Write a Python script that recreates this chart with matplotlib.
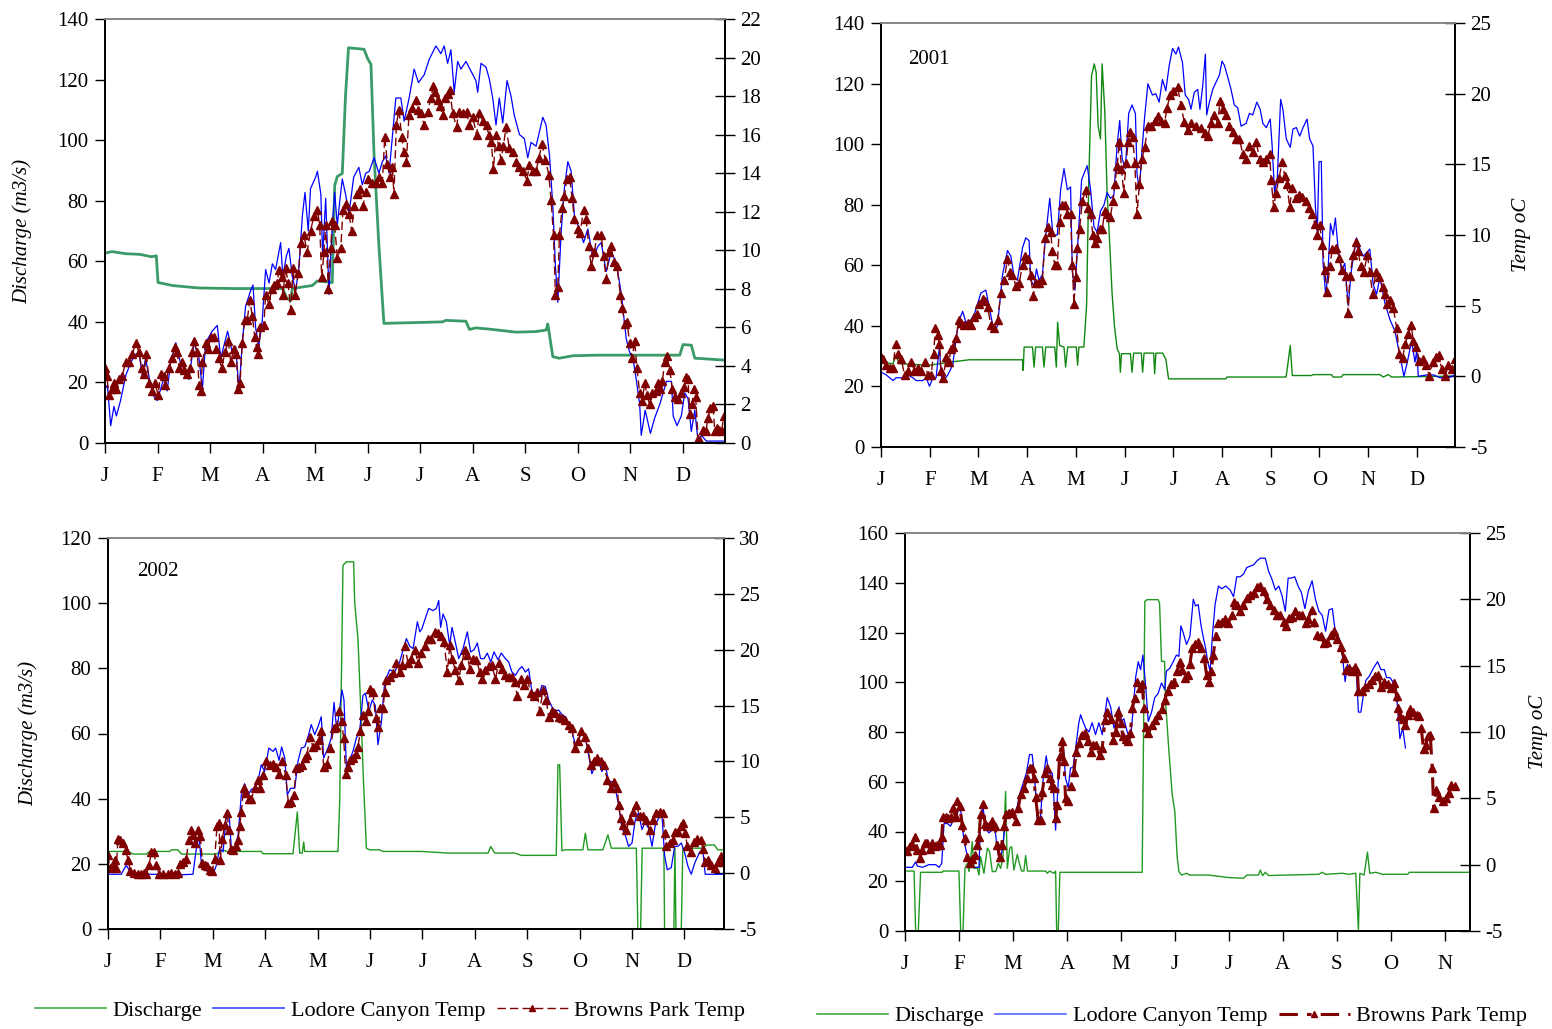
import numpy as np
import matplotlib
matplotlib.use("Agg")
import matplotlib.pyplot as plt
from matplotlib.lines import Line2D

plt.rcParams['font.family'] = ['Liberation Serif', 'DejaVu Serif']
plt.rcParams['font.size'] = 15

months = ['J', 'F', 'M', 'A', 'M', 'J', 'J', 'A', 'S', 'O', 'N', 'D']

# ---- panel 1 (no year label) : (day of year, value) ----
p1_discharge = [(0, 62.7), (4, 63.2), (12, 62.5), (20, 62.3), (27, 61.5), (29.7, 61.8), (30.7, 53), (39, 52),
                (54, 51.2), (74, 51), (103, 51), (105, 48), (107.5, 47), (108.5, 51), (120, 52), (123, 53.5),
                (131.6, 53), (133, 85), (134.5, 88), (137.4, 89), (139.3, 115), (141, 130.5), (150, 130),
                (152, 127), (154, 125), (155.8, 95), (158.6, 65), (161.5, 39.5), (182, 39.8), (195.5, 40),
                (197.4, 40.5), (209, 40.2), (211, 37.5), (214.7, 38), (222.5, 37.6), (238, 36.6), (249.6, 36.8),
                (255.4, 37.3), (256.4, 39.3), (259.3, 28.5), (263, 28), (270.9, 28.8), (284.4, 29), (332.8, 29),
                (334.7, 32.5), (339.5, 32.3), (341.5, 28), (358, 27.4)]

p1_lodore = [(0, 2.8), (1.4, 3.0), (3.3, 0.9), (5.2, 1.9), (6.6, 1.4), (9, 2.2), (12, 3.5), (15, 4.2), (17.8, 4.6),
             (19.7, 4.7), (21.6, 3.5), (23.5, 4.4), (26.4, 3.0), (28.4, 2.4), (30.3, 2.2), (33.2, 3.1), (35, 3.5),
             (36, 2.7), (38, 4.2), (41, 5.2), (43.8, 4.1), (46.7, 3.8), (48.6, 3.3), (51.5, 5.2), (54.4, 4.4),
             (56.4, 2.8), (58.3, 5.2), (62, 5.8), (65, 6.1), (67, 4.4), (71, 5.8), (73.7, 4.7), (75.7, 5.0),
             (77.6, 2.7), (79.5, 5.2), (81.4, 7.1), (84.3, 7.9), (85.7, 8.2), (87.2, 6.0), (89, 5.0), (91, 6.3),
             (93, 9.0), (95, 8.3), (96.9, 9.3), (98.8, 9.0), (101.7, 10.4), (103, 8.6), (105, 9.7), (106.5, 10.1),
             (108.5, 8.6), (110.4, 7.9), (112.3, 9.1), (114.3, 11.8), (115.8, 13.0), (117.7, 11.0), (119, 13.2),
             (122, 13.8), (123, 14.1), (125, 12.9), (126, 9.7), (127.8, 12.7), (129.7, 7.7), (131.6, 11.3),
             (133, 13.0), (134.5, 11.3), (136, 12.6), (137.4, 13.7), (139.3, 12.9), (141.3, 11.9), (144, 13.8),
             (147, 14.3), (149, 13.4), (151, 14.0), (153, 14.1), (155.8, 14.8), (158.6, 14.0), (160.6, 14.6),
             (162.5, 14.9), (164.5, 14.0), (168.4, 17.9), (171.3, 17.9), (173.2, 16.7), (176.1, 17.9), (179, 19.4),
             (181.5, 18.7), (184.8, 19.1), (187.7, 19.9), (191.6, 20.6), (194.5, 20.2), (196.4, 20.6), (198.4, 19.7),
             (200.3, 20.4), (202.2, 18.2), (204.2, 19.8), (206.1, 19.4), (209, 19.8), (211.9, 19.3), (214.8, 18.8),
             (215.8, 18.2), (217.7, 19.7), (220.6, 19.5), (222.5, 18.9), (224.5, 17.9), (226.4, 16.5), (228.3, 17.9),
             (230.3, 16.6), (232.8, 18.8), (235.1, 18.0), (237, 17.0), (240, 16.0), (242.8, 15.8), (244.8, 14.8),
             (246.7, 15.6), (249.6, 15.4), (253.5, 16.9), (255.4, 16.5), (257.4, 14.9), (259.3, 12.3), (260.8, 9.2),
             (262.2, 7.3), (264.1, 10.9), (266, 13.2), (268, 14.6), (269.9, 14.1), (271.8, 11.8), (274.7, 11.1),
             (277.1, 10.4), (279.6, 11.1), (282.5, 9.6), (285.4, 10.2), (287.3, 10.4), (290.2, 8.9), (293.1, 9.9),
             (296, 9.4), (299, 7.7), (301.8, 5.4), (303.8, 4.7), (305.7, 4.4), (307.6, 3.3), (309.6, 2.0),
             (310.5, 0.4), (312.8, 1.7), (315.8, 0.5), (318.3, 1.3), (321.2, 2.0), (325.1, 3.2), (328, 3.2),
             (329, 1.4), (331.2, 0.9), (333.7, 1.4), (335.7, 2.6), (337.6, 2.3), (339.5, 0.6), (341.5, 1.7),
             (343.4, 0.1), (345.3, 0.4), (348.2, 0.1), (358, 0.1)]

p1_browns = [(0, 3.9), (1, 3.5), (2.3, 2.5), (4.2, 2.8), (5.2, 3.1), (6.6, 2.8), (8.1, 3.3), (10, 3.5), (12, 4.2),
             (13.9, 4.2), (15.8, 4.6), (17.8, 5.2), (19.7, 4.7), (21.2, 3.9), (22.6, 3.6), (24, 4.6), (25.5, 3.1),
             (27.4, 2.7), (29, 3.1), (30.7, 2.5), (32.2, 3.6), (34.2, 3.5), (35, 3.0), (37, 3.9), (39, 4.4),
             (40.5, 5.0), (41.9, 4.7), (42.8, 3.9), (44.4, 4.2), (45.7, 3.8), (47.7, 3.6), (49, 3.9), (50.6, 4.7),
             (51.5, 5.3), (53.5, 4.7), (54.4, 3.0), (55.4, 2.7), (56.4, 4.2), (58.3, 5.2), (59.8, 4.9), (61.2, 5.5),
             (63.1, 5.5), (64.5, 4.9), (66, 4.4), (67.5, 3.9), (69.5, 4.7), (71.4, 5.3), (72.8, 4.2), (74.7, 4.9),
             (76, 4.6), (77.2, 2.8), (78.2, 3.1), (79.5, 5.2), (81, 6.4), (82.4, 6.4), (83.8, 7.4), (85.3, 6.6),
             (86.7, 5.5), (87.8, 5.0), (88.8, 4.6), (90, 6.0), (92, 6.1), (93, 7.7), (95, 7.2), (96.5, 8.0),
             (97.9, 8.2), (99.8, 8.3), (100.7, 9.0), (102.3, 8.6), (103, 7.7), (104.6, 9.1), (106, 8.3), (107.5, 6.9),
             (108.9, 9.1), (110, 7.7), (112, 8.8), (113.3, 10.4), (115.2, 10.8), (117, 9.9), (119, 11.0), (121, 11.8),
             (123, 12.1), (124.3, 11.3), (125.5, 8.6), (126.8, 9.9), (127.8, 11.3), (129.3, 8.0), (130.7, 10.1),
             (131.6, 11.5), (133, 11.3), (134.5, 9.6), (136.5, 10.1), (137.8, 12.1), (139.3, 12.4), (141.3, 11.9),
             (142.8, 11.0), (144.2, 12.3), (146.1, 12.9), (147.5, 13.2), (149.4, 12.3), (151, 13.0), (152.5, 13.7),
             (154.8, 13.5), (156.7, 13.5), (158.6, 13.8), (160.6, 13.5), (162, 15.9), (163.5, 14.5), (164.8, 13.8),
             (166.4, 14.3), (167.3, 12.9), (168.7, 16.5), (170.2, 17.3), (171.8, 15.9), (173, 15.1), (174.5, 14.6),
             (176, 17.0), (178, 17.4), (179.9, 17.8), (181, 17.3), (182.9, 17.1), (184.8, 16.5), (186.8, 17.2),
             (188.7, 17.9), (190, 18.5), (191.2, 18.2), (192.6, 17.8), (193.9, 17.5), (195.5, 17.0), (197, 17.9),
             (198.4, 18.1), (199.7, 18.3), (201.3, 17.1), (203.6, 16.4), (204.7, 17.2), (207.1, 17.1), (209.4, 17.2),
             (210.9, 16.5), (212.9, 16.9), (215.2, 16.0), (216.7, 17.1), (219, 16.7), (221, 16.5), (222.1, 16.0),
             (223.7, 15.6), (224.9, 14.2), (226.4, 16.0), (228, 15.4), (229.3, 14.7), (230.7, 15.4), (232.2, 16.4),
             (234.1, 15.3), (236.1, 15.1), (238, 14.6), (239.9, 14.3), (242.3, 14.1), (244.2, 13.6), (245.7, 14.4),
             (247.7, 14.1), (249.6, 14.1), (251.2, 14.8), (253.1, 15.5), (255, 14.7), (257, 13.9), (258.3, 12.6),
             (259.7, 10.8), (260.8, 7.7), (262.2, 8.1), (263.1, 10.8), (264.7, 12.2), (266, 12.8), (267.4, 13.7),
             (269, 13.8), (270.5, 12.7), (271.8, 11.6), (273.8, 11.1), (275.1, 10.9), (277.1, 12.1), (278.6, 11.6),
             (280.2, 10.2), (281.5, 9.2), (283.4, 9.9), (284.8, 10.8), (287.3, 10.8), (288.7, 9.7), (290.2, 8.5),
             (291.8, 9.9), (293.1, 10.2), (294.5, 9.4), (296.4, 9.2), (298.4, 7.7), (299.5, 7.0), (300.9, 6.2),
             (302.2, 6.3), (303.8, 5.2), (305.3, 4.4), (306.7, 5.3), (308, 3.9), (309.6, 2.6), (311.1, 2.2),
             (312.5, 3.1), (313.8, 2.5), (315.4, 2.0), (317, 2.6), (318.9, 2.7), (320.2, 3.1), (321.6, 2.8),
             (322.7, 3.2), (324.1, 4.2), (325.4, 4.5), (327, 3.8), (328.5, 2.8), (329.9, 2.4), (331.8, 2.3),
             (333.7, 2.6), (335.1, 2.9), (336.3, 3.4), (337.6, 3.3), (338.6, 1.5), (339.9, 2.0), (340.9, 2.8),
             (342, 2.4), (343.4, 0.2), (344.8, 0.1), (346.3, 0.7), (347.9, 0.6), (349.2, 1.3), (350.6, 1.8),
             (352.1, 1.9), (353.1, 0.6), (354.4, 0.8), (355.6, 0.7), (357, 0.6), (358.3, 1.4)]

# ---- panel 2 (2001) ----
p2_discharge = [(0, 28), (7.5, 27.5), (9.1, 30.2), (11.6, 27.5), (30.3, 27), (42.7, 28), (55.2, 28.8), (88.4, 28.8),
                (88.8, 25.3), (89.4, 33), (94.6, 33), (95.6, 26.4), (96.6, 33), (100.8, 33), (101.8, 26.4),
                (102.9, 33), (108.5, 33), (109.5, 26.4), (110.3, 41.2), (111.6, 33.5), (114.3, 33), (115.3, 26.4),
                (116.6, 33), (122, 33), (122.8, 27), (123.6, 33), (126.7, 33), (128.4, 46.7), (129.8, 88.5),
                (131.5, 122.6), (133.2, 126.5), (134.4, 123.7), (135.6, 106), (137.1, 101.7), (138.1, 126.5),
                (139.8, 110.5), (141.2, 84), (142.7, 68.7), (144.3, 51), (145.8, 40), (147.5, 32.4), (148.9, 30.8),
                (149.5, 24.7), (150.2, 30.8), (155.8, 30.8), (156.8, 24.7), (157.8, 31), (162.6, 31), (163.4, 24.7),
                (164.3, 31), (170.3, 31), (170.9, 24.2), (171.7, 31), (175.9, 31), (177.9, 29), (179.6, 22.5),
                (215.5, 22.5), (216, 23.1), (253, 23.1), (254, 27), (255.6, 33.5), (256.9, 23.6), (268.8, 23.6),
                (269.8, 23.9), (281.3, 23.9), (282.4, 23.1), (287.6, 23.1), (288.6, 23.9), (311.6, 23.9),
                (313.7, 23.1), (316.8, 23.9), (318.9, 23.1), (358.6, 23.4)]

p2_lodore = [(0, 0.3), (3.3, 0.1), (7.5, -0.3), (9.5, -0.1), (13.7, -0.1), (16.8, 0.1), (19.9, -0.1), (22, -0.3),
             (26.1, -0.3), (28.2, -0.1), (30.3, -0.7), (32.4, -0.1), (34.4, -0.1), (36.5, 2.1), (37.5, 0.1),
             (39, -0.3), (41.7, 0.1), (44.8, 0.8), (46.9, 2.7), (48.9, 4.0), (51, 4.6), (53.1, 3.8), (56.2, 4.0),
             (58.3, 4.4), (62.4, 5.9), (65.5, 6.1), (67.6, 4.9), (70.7, 3.1), (72.8, 3.6), (75.9, 7.2), (79, 8.9),
             (81.1, 8.5), (83.2, 7.0), (85.2, 6.8), (88.4, 9.1), (90.4, 9.8), (92.5, 9.6), (93.5, 6.8), (95.6, 6.4),
             (97.1, 7.6), (98.7, 6.8), (100.8, 7.2), (102.9, 10.0), (105.4, 12.6), (107.4, 10.0), (110.1, 10.0),
             (112.2, 13.2), (114.3, 14.7), (116.4, 13.2), (118.4, 13.4), (119.5, 7.4), (121.1, 6.1), (123.2, 10.0),
             (125.3, 13.9), (127.3, 14.5), (128.8, 14.9), (130.9, 13.2), (133, 10.6), (135, 10.2), (137.1, 11.7),
             (139.2, 12.1), (141.2, 13.0), (143.3, 12.6), (145.4, 12.8), (147.5, 16.4), (149.1, 18.1), (150.6, 15.4),
             (152.6, 14.7), (154.7, 18.6), (156.8, 19.2), (158.9, 18.6), (159.9, 14.3), (161.4, 13.2), (163, 16.0),
             (164.7, 18.4), (166.7, 20.7), (169.5, 19.9), (171.6, 20.0), (173.7, 19.4), (175.8, 21.0), (177.9, 20.2),
             (180, 22.0), (182.1, 23.2), (184.2, 22.8), (185.8, 23.3), (188.3, 22.2), (190, 19.9), (192.1, 19.6),
             (193.6, 18.9), (195.7, 20.1), (197.8, 20.3), (199.2, 18.9), (200.9, 20.5), (202.6, 22.8), (203.4, 18.5),
             (205.1, 19.4), (207.2, 20.3), (209.2, 20.8), (211.3, 21.3), (213, 22.3), (214.5, 22.0), (216.5, 21.2),
             (218.6, 20.3), (220.7, 19.2), (222.8, 19.0), (224.9, 17.7), (228, 17.9), (230.1, 18.6), (232.2, 18.5),
             (234.7, 19.4), (236.8, 18.9), (238.5, 17.9), (240.6, 17.6), (243.1, 18.2), (244.3, 16.3), (245.8, 13.0),
             (247.5, 14.0), (249.6, 19.6), (251, 18.9), (253.1, 16.8), (255.6, 16.2), (257.3, 17.5), (259.4, 17.6),
             (261.5, 17.0), (263.6, 17.6), (266.1, 18.2), (267.7, 16.8), (269.8, 16.3), (271.3, 12.0), (272.5, 10.2),
             (273.6, 15.2), (275, 15.2), (276.1, 8.0), (277.8, 5.7), (279.2, 7.5), (280.7, 10.8), (282.4, 10.0),
             (283.8, 11.2), (285.5, 9.0), (287.6, 7.5), (289.7, 8.0), (291.8, 5.0), (293.8, 7.5), (297, 9.8),
             (299.1, 9.0), (301.2, 8.5), (305.3, 9.0), (307.4, 6.5), (309.5, 5.8), (311.6, 7.0), (314.7, 5.2),
             (317.9, 4.0), (321, 3.2), (323.1, 2.0), (324.6, 1.2), (326.6, 0.0), (328.7, 1.0), (331.4, 2.5),
             (333.5, 1.0), (334.6, 1.8), (335.6, 0.0), (340.8, 0.1), (345, 0.1), (349.2, -0.1), (354.4, -0.1),
             (358.6, 0.1)]

p2_browns = [(0, 1.4), (1.2, 1.2), (3.3, 0.8), (5.4, 0.6), (7.5, 0.6), (9.1, 2.3), (10.6, 1.6), (12.7, 1.2),
             (14.7, 0.1), (16.8, 0.4), (18.9, 1.0), (20.9, 0.4), (23, 0.6), (25.1, 0.4), (27.2, 1.0), (29.2, 0.1),
             (31.3, 0.1), (32.8, 1.6), (34, 3.4), (35.5, 2.9), (36.5, 2.3), (37.5, 0.4), (39, -0.1), (40.7, 1.4),
             (42.3, 1.0), (43.8, 1.9), (45.2, 2.1), (46.9, 2.7), (48.5, 4.0), (50, 3.8), (52.1, 3.6), (54.1, 3.8),
             (56.2, 3.6), (58.3, 4.2), (59.7, 4.4), (61.4, 5.1), (63.5, 5.5), (65.1, 5.3), (66.6, 4.9), (68.6, 3.6),
             (70.7, 3.4), (72.8, 4.0), (74.9, 5.9), (76.9, 6.8), (79, 8.3), (80.5, 7.4), (82.1, 7.2), (84.2, 6.4),
             (86.3, 6.6), (88.4, 7.9), (90, 8.5), (92.1, 8.3), (93.5, 7.2), (95, 5.7), (96.6, 6.6), (98.7, 6.6),
             (100.8, 6.8), (102.5, 9.8), (104.5, 10.6), (106, 10.2), (107, 8.9), (108.5, 7.9), (110.1, 7.9),
             (111.6, 10.9), (113.2, 12.1), (114.9, 12.1), (116.4, 11.5), (118.4, 11.5), (119.5, 7.9), (120.5, 5.1),
             (121.5, 7.0), (122.6, 9.1), (124, 10.4), (125.7, 12.4), (127.8, 13.2), (129.2, 11.9), (130.9, 11.5),
             (132.3, 10.0), (133.6, 9.4), (135, 9.8), (136.7, 10.4), (138.1, 10.4), (139.8, 11.7), (141.2, 11.5),
             (143.3, 11.3), (144.8, 12.4), (146, 13.6), (147.5, 14.9), (148.9, 16.6), (150.2, 14.7), (151.6, 13.0),
             (153.1, 15.1), (154.3, 16.6), (155.8, 17.3), (157.2, 16.9), (158.5, 15.1), (159.9, 11.5), (161.4, 13.6),
             (163, 15.4), (164.7, 16.2), (166.7, 17.7), (168.8, 17.7), (170.9, 18.1), (173, 18.4), (175, 18.1),
             (177.1, 17.9), (178.6, 19.0), (180.6, 19.9), (182.1, 20.2), (185.2, 20.5), (187.3, 19.2), (189.4, 18.0),
             (191.5, 17.4), (193.6, 17.9), (196.7, 17.7), (199.8, 17.6), (202.6, 17.2), (204, 17.0), (206.1, 17.9),
             (208.2, 18.5), (210.3, 17.9), (211.8, 19.5), (213.4, 18.9), (215.5, 18.5), (217.6, 17.7), (219.7, 17.3),
             (221.8, 16.8), (223.9, 16.8), (226, 15.7), (228, 15.4), (230.1, 16.3), (232.2, 15.9), (234.3, 16.6),
             (236.4, 15.4), (238.5, 15.2), (240.6, 15.4), (242.7, 15.7), (243.7, 13.9), (245.2, 12.0), (246.8, 13.0),
             (248.5, 14.0), (250.6, 15.2), (252.1, 14.2), (253.5, 13.6), (255.2, 12.0), (256.9, 13.3), (259, 12.6),
             (261, 12.8), (263.1, 12.7), (265.2, 12.4), (267.3, 11.9), (269.4, 11.5), (270.9, 10.8), (272.3, 10.0),
             (274, 10.7), (275.7, 9.3), (277.1, 7.5), (278.6, 6.0), (280.3, 7.8), (281.9, 9.0), (284, 9.1),
             (286.1, 8.4), (288.2, 7.5), (290.3, 7.1), (291.8, 4.5), (292.8, 7.1), (294.9, 8.6), (296.6, 9.5),
             (298, 8.9), (299.5, 7.8), (301.6, 7.4), (303.7, 8.6), (305.3, 7.4), (307, 5.8), (309.1, 7.4),
             (311.2, 7.0), (313.3, 6.3), (314.7, 5.8), (316.2, 5.1), (317.9, 5.4), (320, 4.8), (322.1, 3.4),
             (323.7, 1.6), (325.8, 1.3), (327.3, 2.3), (329.4, 3.0), (331.1, 3.6), (332.5, 2.5), (334.2, 2.1),
             (336.3, 1.1), (338.4, 1.2), (340.4, 0.8), (342.5, 0.0), (344.6, 1.0), (346.7, 1.4), (348.4, 1.5),
             (350.2, 0.5), (352.3, 0.0), (354.4, 0.8), (356.5, 0.5), (358.6, 1.2)]

# ---- panel 3 (2002) ----
p3_discharge = [(0, 23.8), (11.6, 23.8), (14.5, 23), (22.3, 23), (24.2, 23.8), (35.8, 23.8), (36.8, 24.3),
                (40.6, 24.3), (42.6, 23), (62.9, 23), (66.8, 24.3), (68.7, 23.8), (89, 23.8), (89.9, 23.1),
                (107.4, 23.1), (109.9, 35.9), (111.3, 23.3), (112.8, 23.3), (113.6, 26.7), (114.2, 23.8),
                (133.5, 23.8), (134.5, 39), (136.4, 111.6), (138.4, 112.7), (142.6, 112.7), (143.2, 100.4),
                (144.2, 94.3), (145.1, 89.2), (147.1, 62.6), (148.4, 44.2), (150, 24.8), (151.9, 24.3), (157.7, 24.3),
                (159.6, 23.8), (182, 23.8), (197.4, 23.3), (220.6, 23.3), (222.2, 25.3), (224.5, 23.3), (236.1, 23.3),
                (240, 22.6), (260.2, 22.6), (261.2, 50.4), (262.2, 50.4), (263.5, 24), (265.1, 24.3), (275.7, 24.3),
                (277.1, 29.4), (278.6, 24.3), (287.3, 24.3), (290.2, 28.9), (292.2, 24.8), (306.7, 24.8),
                (307.6, 0), (309.2, 0), (310.1, 24.8), (322.7, 24.8), (323.1, 0), (328.5, 0), (329.1, 24.8),
                (329.7, 0), (332.8, 0), (333.7, 24.8), (344.3, 24.8), (348, 25.8), (352, 25.8), (354, 24.3),
                (358, 24.3)]

p3_lodore = [(0, -0.1), (7.7, -0.1), (9.1, 0.3), (10.6, 0.7), (12.6, 0.2), (14.5, 0.1), (18.4, -0.1), (28.1, -0.1),
             (30, -0.4), (33.9, -0.2), (49.3, -0.1), (51.3, 2.2), (52.8, 3.4), (54.2, 0.9), (56.1, 0.3), (61, -0.1),
             (62.9, 0.7), (64.8, 2.2), (66.8, 1.9), (68.7, 5.2), (70.2, 5.5), (71.6, 2.2), (73.5, 2.1), (75.5, 3.4),
             (77.4, 7.0), (79.3, 8.0), (81.3, 7.0), (83.2, 7.5), (85.1, 7.6), (87.1, 8.3), (89, 9.7), (90.9, 9.1),
             (93.4, 11.2), (95.8, 10.9), (97.3, 11.2), (99.3, 10.1), (100.8, 11.3), (102.6, 10.3), (104.1, 7.0),
             (106, 7.6), (108.4, 7.6), (110.3, 10.0), (112.2, 11.2), (114.2, 11.3), (116.1, 12.2), (118, 13.3),
             (120, 12.4), (121.9, 13.1), (123.8, 14.0), (125.2, 10.3), (127.7, 11.2), (129.6, 12.1), (131.2, 15.3),
             (132.9, 12.7), (134.5, 14.7), (135.8, 16.4), (137, 15.5), (138.4, 9.4), (140.3, 10.1), (142.2, 10.9),
             (144.2, 12.1), (146.1, 12.7), (148, 15.9), (149.4, 16.1), (151.5, 14.5), (153.4, 15.5), (155.2, 15.0),
             (156.7, 11.5), (158.7, 13.5), (160.6, 17.1), (163.5, 18.2), (166.4, 18.0), (169.3, 18.9), (171.9, 20.3),
             (173.2, 21.0), (175.2, 20.3), (177.1, 20.1), (179.6, 22.5), (181, 21.6), (182.3, 21.9), (184.2, 22.8),
             (186.2, 23.7), (188.7, 23.5), (190.6, 23.7), (192, 24.4), (193.1, 22.0), (194.5, 23.2), (196.4, 22.5),
             (198.4, 20.4), (199.7, 22.0), (201.6, 20.7), (203.6, 19.2), (206.1, 20.1), (208.6, 21.6), (210.5, 19.8),
             (212.5, 20.0), (214.4, 20.6), (216.3, 19.2), (218.3, 19.2), (220.2, 19.7), (222.2, 18.9), (224.1, 19.8),
             (226.4, 19.1), (228.3, 19.7), (230.7, 19.2), (232.6, 18.9), (234.5, 18.0), (236.5, 17.7), (238.4, 18.2),
             (240.3, 18.5), (242.3, 18.0), (244.2, 18.3), (246.1, 16.2), (248.1, 16.1), (250, 15.9), (251.9, 16.8),
             (253.9, 16.7), (255.8, 15.5), (257.7, 14.9), (259.7, 14.5), (261.6, 14.6), (263.5, 14.2), (265.5, 14.0),
             (267.4, 13.4), (269.3, 12.7), (271.3, 11.5), (273.2, 11.9), (275.1, 12.7), (277.1, 12.1), (279, 10.6),
             (280.9, 8.9), (282.9, 9.7), (284.8, 10.0), (286.7, 9.1), (288.7, 9.7), (290.6, 8.2), (292.5, 8.2),
             (294.5, 7.6), (296.4, 6.1), (298.4, 4.0), (300.3, 3.4), (302.2, 2.4), (304.2, 2.7), (306.1, 4.8),
             (308, 5.4), (310, 3.9), (311.9, 4.6), (313.8, 4.0), (315.8, 2.4), (317.7, 4.3), (319.6, 4.9),
             (321.6, 5.2), (323.1, 1.6), (324.7, 0.3), (327, 0.5), (329, 2.4), (330.9, 2.4), (332.8, 2.7),
             (334.8, 1.8), (336.7, 0.6), (338.6, -0.1), (340.6, 0.9), (343.5, 1.9), (345.4, 1.9), (346.7, -0.1),
             (358, -0.1)]

p3_browns = [(0, 1.6), (1, 0.5), (2.9, 0.6), (3.9, 1.2), (4.8, 0.5), (5.8, 3.1), (7.2, 3.0), (8.7, 2.7), (10.3, 2.1),
             (11.6, 1.2), (13, 0.2), (14.9, 0.0), (17.4, -0.1), (19.4, -0.1), (20.7, 0.0), (22.3, -0.1), (23.8, 0.7),
             (25.2, 1.9), (26.5, 1.9), (28.1, 0.7), (29.6, -0.1), (31.9, -0.1), (34.8, -0.1), (36.8, 0.0),
             (38.7, -0.1), (40.6, 0.0), (41.6, 0.8), (43.5, 1.0), (45.5, 1.3), (46.8, 3.0), (48, 3.9), (49.3, 3.4),
             (50.7, 2.7), (52.2, 3.9), (53.6, 3.3), (54.8, 0.9), (56.1, 0.7), (57.5, 0.6), (59, 0.3), (60.6, 0.2),
             (61.9, 1.3), (63.3, 4.2), (64.4, 4.5), (65.2, 1.2), (66.4, 3.1), (67.7, 4.3), (69.1, 5.4), (70.2, 3.9),
             (71.2, 2.2), (72.6, 2.1), (74.1, 2.4), (75.5, 3.0), (76.4, 4.2), (77.4, 5.5), (78.8, 7.6), (80.3, 7.2),
             (81.8, 6.6), (83.2, 6.6), (85.1, 7.6), (87.1, 8.3), (88.4, 7.6), (90, 8.8), (91.9, 10.0), (93.8, 9.7),
             (95.8, 9.8), (97.3, 9.5), (99.3, 8.9), (101.2, 10.0), (103.1, 8.8), (104.7, 6.3), (106.4, 6.4),
             (107.8, 7.0), (109.3, 9.4), (110.9, 9.5), (112.4, 9.7), (114.2, 10.3), (115.5, 10.6), (117.1, 12.2),
             (119, 11.3), (120.6, 11.5), (122.5, 11.9), (123.8, 12.7), (125.2, 9.5), (127.1, 9.8), (129.1, 11.2),
             (131, 13.0), (132.5, 13.1), (134.1, 14.5), (135.6, 13.6), (136.8, 12.1), (138, 8.9), (139.3, 9.5),
             (140.7, 10.1), (142.2, 10.3), (143.8, 10.7), (145.1, 11.3), (146.5, 12.7), (148, 14.2), (149.6, 13.6),
             (150.9, 14.5), (152.3, 16.5), (153.8, 16.2), (155.3, 13.9), (156.7, 13.1), (158.1, 14.8), (159.7, 14.8),
             (160.6, 16.2), (161.6, 17.3), (163.5, 17.6), (165.5, 17.9), (167.4, 18.8), (169.3, 18.0), (170.7, 18.6),
             (172.3, 20.3), (174.2, 18.8), (176.1, 19.2), (178.1, 20.0), (180, 18.8), (181.9, 19.7), (183.9, 20.3),
             (185.8, 21.0), (187.7, 21.0), (189.7, 21.6), (191.6, 21.5), (193.5, 21.2), (195.1, 20.7), (197, 18.0),
             (198.4, 20.4), (199.7, 19.2), (201.6, 18.2), (203.6, 17.3), (205.1, 18.6), (207.1, 20.0), (208.6, 19.5),
             (210, 18.3), (211.9, 19.2), (213.9, 19.1), (215.8, 18.0), (217.1, 17.4), (219.1, 18.2), (221, 18.5),
             (222.9, 18.6), (224.9, 17.4), (226.8, 18.8), (228.7, 18.3), (230.7, 17.7), (232.6, 17.6), (234.5, 17.6),
             (236.1, 17.1), (237.6, 15.9), (239.6, 17.4), (241.5, 16.8), (243.4, 17.4), (245.4, 16.1), (247.3, 15.9),
             (249.2, 16.2), (250.6, 14.5), (252.5, 16.4), (254.4, 15.5), (255.8, 14.0), (257.7, 14.5), (259.7, 14.3),
             (261.6, 14.0), (263.5, 13.9), (265.5, 13.7), (267.4, 13.3), (269.3, 13.0), (270.9, 11.2), (272.8, 11.8),
             (274.7, 12.7), (276.7, 12.2), (278.6, 11.2), (280.2, 9.7), (282.1, 10.0), (284.1, 10.3), (286, 10.0),
             (287.9, 9.7), (289.9, 8.3), (291.8, 7.6), (293.7, 8.2), (295.7, 7.6), (296.4, 6.1), (297.6, 4.9),
             (299, 4.3), (300.9, 3.9), (302.8, 4.8), (304.8, 5.5), (306.7, 6.1), (308.6, 5.1), (310.6, 5.1),
             (312.5, 4.8), (314.4, 3.9), (316.4, 4.8), (318.3, 5.4), (320.2, 5.5), (322.2, 5.4), (323.1, 3.6),
             (324.1, 2.4), (326, 2.7), (328, 3.0), (329.3, 3.7), (330.9, 3.7), (332.4, 4.2), (333.7, 4.5),
             (335.1, 3.6), (336.3, 2.4), (338.2, 1.9), (340.2, 2.8), (342.1, 3.1), (344.1, 3.0), (345.4, 2.2),
             (346.4, 1.0), (348.3, 1.2), (350.3, 0.7), (352.2, 0.5), (354.1, 1.0), (355.7, 1.5), (357, 1.0)]

# ---- panel 4 ----
p4_discharge = [(0, 24.1), (5.1, 24.1), (6, 0), (7.5, 0), (8.8, 23.6), (21, 23.6), (21.4, 24.1), (30.4, 24.1),
                (31.4, 0), (32.7, 0), (33.8, 25.2), (35.1, 27.2), (36.1, 23.9), (37, 28.6), (37.9, 35.9),
                (38.9, 25.2), (40.8, 25.2), (41.7, 22.5), (42.6, 29.9), (44.5, 23.2), (46.4, 33.3), (47.7, 31.9),
                (49.2, 23.9), (51.1, 23.9), (52.6, 27.2), (53.9, 25.2), (55.2, 29.2), (56.7, 56.1), (57.7, 25.2),
                (59, 33.3), (60.1, 33.9), (61.4, 24.5), (63.3, 30.8), (64.2, 27.9), (65.7, 24.1), (67, 24.1),
                (68, 30.3), (69.1, 24.1), (79.3, 24.1), (80.2, 23.2), (81.5, 24.1), (84, 23.2), (84.9, 24.1),
                (85.5, 0), (86.4, 0), (87.3, 23.6), (133.7, 23.6), (135.2, 132.5), (136.5, 133.2), (142.7, 133.2),
                (143.5, 131.8), (144.6, 108.4), (146.3, 108.4), (146.9, 92), (148.5, 75), (150.6, 55), (152.1, 48),
                (153.4, 30), (154.4, 23.9), (155.9, 22.5), (158.7, 23.2), (160.5, 22.5), (171, 22.5), (182.3, 21.5),
                (190.8, 21.2), (192.7, 22.5), (199.3, 22.5), (200.3, 24.5), (201.6, 22.3), (203.1, 23.6), (205, 22.3),
                (216.3, 22.5), (233.3, 22.8), (235.2, 23.6), (237.1, 22.8), (246.5, 23.2), (250.3, 22.8),
                (254.1, 23.2), (255.6, 0), (256.4, 23.2), (258.8, 22.5), (260.7, 31.7), (262, 23.2), (265.4, 23.6),
                (269.2, 22.8), (283.4, 22.8), (284.3, 23.6), (318.7, 23.6)]

p4_lodore = [(0, -0.2), (4.1, -0.2), (6, 0.2), (6.9, -0.1), (9.8, -0.2), (13.5, 0.0), (17.3, 0.0), (19.2, -0.2),
             (20.7, 0.1), (22, 3.1), (23.9, 3.1), (25.7, 2.9), (27.6, 3.5), (28.5, 3.3), (30.4, 4.3), (31.7, 3.9),
             (32.9, 2.2), (34.2, 1.2), (36.1, 0.2), (37.9, -0.2), (41.7, -0.2), (42.6, 3.3), (43.9, 4.5), (45.4, 2.7),
             (47.3, 2.4), (49.2, 2.6), (50.7, 2.7), (52, 1.2), (53.3, 0.2), (54.8, 1.1), (56.7, 3.3), (58.6, 4.1),
             (60.8, 3.9), (62.7, 4.0), (64.6, 5.3), (66.5, 6.1), (68.4, 6.9), (70.2, 8.3), (71.7, 8.3), (73.2, 6.3),
             (74.6, 3.3), (76.4, 3.6), (77.9, 6.5), (79.6, 8.2), (81.1, 6.9), (83, 6.9), (83.9, 5.1), (84.9, 2.6),
             (86.4, 6.3), (87.7, 8.5), (89, 9.3), (90.5, 6.5), (92, 5.8), (93.3, 7.3), (94.7, 7.3), (96.2, 8.8),
             (98, 10.7), (99, 11.3), (100.3, 10.8), (101.8, 10.3), (103.7, 10.0), (105.5, 10.7), (107.4, 9.8),
             (109.3, 10.7), (111.2, 9.8), (112.7, 11.3), (114, 12.6), (115.9, 11.9), (117.8, 10.3), (119.6, 11.0),
             (120.6, 11.9), (122.1, 10.8), (123.4, 11.0), (125.3, 10.0), (127.1, 9.5), (128.5, 11.5), (130, 14.1),
             (131.5, 15.3), (132.8, 14.7), (134.1, 15.8), (135.6, 13.6), (137.1, 10.8), (139, 11.5), (140.8, 12.6),
             (142.7, 12.9), (144.6, 13.7), (146.4, 13.2), (147.4, 14.6), (149.3, 14.8), (151.2, 15.3), (153, 15.8),
             (154.4, 15.7), (155.5, 18.0), (156.8, 17.5), (158.7, 16.6), (160.6, 17.2), (162.5, 20.0), (163.8, 19.5),
             (165.3, 19.6), (166.8, 18.1), (168.2, 17.1), (169.5, 16.3), (170.6, 15.3), (172, 14.6), (173.3, 17.3),
             (174.8, 19.6), (176.7, 21.0), (178.5, 20.8), (180.8, 21.0), (183.3, 20.7), (185.2, 20.2), (187, 21.7),
             (188.9, 21.7), (190.8, 21.9), (192.7, 22.4), (194.6, 22.5), (196.5, 22.6), (198.4, 22.9), (200.3, 23.1),
             (203.1, 23.1), (205, 22.1), (206.9, 21.5), (208.8, 20.7), (210.7, 21.0), (212.5, 20.3), (214.4, 19.1),
             (216, 21.6), (217.8, 21.6), (219.7, 21.7), (221.6, 21.0), (223.5, 20.5), (225.4, 19.3), (227.3, 20.6),
             (229.5, 21.4), (231.4, 20.0), (233.3, 19.1), (235.2, 18.8), (237.1, 17.6), (239, 19.2), (240.9, 19.3),
             (242.8, 17.3), (244.7, 17.1), (246.5, 15.8), (248.1, 13.8), (249.4, 15.1), (251.3, 14.4), (253.2, 14.9),
             (254.5, 14.4), (255.6, 11.5), (257, 11.5), (258.3, 12.7), (259.8, 13.9), (261.7, 14.2), (264, 14.8),
             (266.4, 15.3), (268.3, 14.7), (270.2, 14.7), (271.5, 14.1), (273.4, 14.1), (274.9, 13.8), (276.4, 13.9),
             (277.7, 11.8), (279, 9.5), (280.6, 10.3), (282.1, 8.8)]

p4_browns = [(0, 1.1), (1.3, 1.0), (2.6, 1.4), (4.1, 1.5), (5.6, 2.1), (6.9, 1.1), (8.3, 0.5), (9.8, 1.1), (11.3, 1.6),
             (12.6, 1.6), (14.1, 1.2), (15.4, 1.6), (16.9, 1.4), (18.2, 1.5), (19.5, 1.5), (20.7, 2.1), (21.4, 3.6),
             (22.9, 3.6), (24.4, 3.5), (25.7, 3.6), (27, 4.3), (28.5, 3.6), (29.5, 4.8), (30.8, 4.4), (32.3, 3.0),
             (33.6, 2.0), (35.1, 0.6), (36.4, 0.1), (37.9, 0.4), (39.4, 0.7), (40.8, 1.5), (41.7, 2.1), (42.6, 3.8),
             (43.9, 4.6), (45.1, 3.1), (46.4, 2.9), (47.7, 3.0), (49.2, 3.3), (50.7, 2.9), (52, 1.5), (53.3, 0.6),
             (54.5, 1.5), (55.8, 2.9), (57.1, 3.8), (58.6, 3.9), (60.5, 4.0), (62.3, 3.3), (63.9, 4.3), (65.2, 5.3),
             (67, 5.8), (68.9, 6.5), (70.2, 7.3), (71.7, 7.3), (72.7, 6.5), (73.6, 5.1), (75.1, 3.4), (76.4, 3.4),
             (77.4, 5.5), (78.9, 6.9), (80.2, 7.3), (81.5, 6.5), (83, 6.0), (83.9, 5.8), (84.9, 3.5), (85.8, 4.5),
             (87.1, 8.2), (88.6, 9.3), (89.6, 7.8), (90.5, 5.0), (92, 4.8), (93.3, 5.9), (95.2, 7.0), (96.5, 8.5),
             (98, 9.2), (99.5, 9.8), (101.4, 9.9), (103.3, 9.3), (104.6, 8.5), (105.9, 9.0), (107.8, 9.0),
             (109.7, 8.3), (111.2, 8.8), (112.7, 10.9), (114, 11.5), (115.9, 11.0), (117.2, 9.4), (118.7, 10.0),
             (120.2, 11.5), (121.5, 10.7), (122.8, 9.7), (124.3, 9.5), (125.8, 9.3), (127.1, 9.9), (128.1, 11.8),
             (129.6, 12.6), (130.9, 13.8), (132.2, 13.3), (133.7, 13.6), (134.7, 11.8), (135.6, 10.4), (137.1, 9.9),
             (139, 10.5), (140.8, 10.9), (142.7, 11.3), (144.6, 11.7), (146.4, 12.4), (148, 13.1), (149.8, 13.6),
             (151.7, 13.8), (153.6, 14.6), (154.9, 15.3), (156.3, 14.7), (157.8, 14.1), (159.3, 14.3), (160.6, 15.1),
             (161.9, 16.3), (163.4, 16.6), (165.3, 16.8), (166.8, 16.3), (168.7, 15.6), (170, 14.3), (171.4, 13.8),
             (172.5, 14.6), (173.8, 15.8), (175.1, 17.2), (176.7, 18.2), (178.5, 18.3), (180.4, 18.5), (182.3, 18.2),
             (184.2, 18.8), (185.7, 19.8), (187, 19.6), (188.9, 19.1), (190.8, 19.6), (192.7, 20.1), (194.6, 20.3),
             (196.5, 20.5), (198.4, 20.9), (200.3, 21.0), (202.2, 20.6), (204, 20.0), (205.9, 19.6), (207.8, 19.2),
             (209.7, 18.8), (211.6, 18.8), (213.5, 18.3), (214.8, 18.0), (216.3, 18.6), (218.2, 18.7), (220.1, 19.1),
             (222, 18.8), (223.9, 18.8), (225.8, 18.2), (227.3, 18.5), (229.2, 19.2), (230.5, 18.3), (232.4, 17.3),
             (234.3, 17.2), (236.2, 16.7), (238.1, 16.8), (240, 17.3), (241.8, 17.6), (243.7, 17.0), (245.6, 16.4),
             (247.5, 15.6), (248.8, 14.7), (250.3, 14.8), (251.8, 14.6), (253.7, 14.9), (255, 14.6), (255.6, 13.1),
             (257.5, 13.1), (259.4, 13.4), (261.3, 13.6), (263.2, 13.9), (265, 14.2), (266.9, 14.3), (268.3, 13.4),
             (270.2, 13.8), (272, 13.6), (273.9, 13.3), (275.8, 13.7), (277.1, 12.7), (277.7, 11.8), (279, 11.2),
             (280.6, 11.0), (282.1, 10.5), (283.4, 11.3), (284.7, 11.7), (286.6, 11.5), (288.5, 11.3), (290, 11.2),
             (291, 10.3), (292.3, 8.7), (293.5, 9.0), (294.8, 9.7), (296.1, 9.8), (297.2, 7.3), (298, 4.3),
             (299.5, 5.6), (301.3, 5.1), (303.2, 4.8), (305.1, 5.0), (306.6, 5.4), (307.9, 6.0), (309.8, 5.9)]

GREEN_1 = '#3a9a68'
GREEN = '#1f9a1f'
BLUE = '#0000ff'
MAROON = '#800000'
DAYS_PER_MONTH = 365 / 12


def panel(rect, q, lod, bp, qmax, tlim, tstep, xmax, nmonths, green, green_lw,
          bp_style, year=None, left_label=None, right_label=None):
    ax = fig.add_axes(rect)
    ax2 = ax.twinx()

    qd, qv = np.array(q).T
    ld, lv = np.array(lod).T
    bd, bv = np.array(bp).T

    ax.plot(qd, qv, color=green, lw=green_lw)
    ax2.plot(ld, lv, color=BLUE, lw=0.9)
    ax2.plot(bd, bv, color=MAROON, lw=bp_style['lw'], ls=bp_style['ls'], marker='^',
             ms=bp_style['ms'], mfc=MAROON, mec=MAROON)

    ax.set_xlim(0, xmax)
    ax.set_ylim(0, qmax)
    ax.set_yticks(np.arange(0, qmax + 1, 20))
    tvals = np.arange(tlim[0], tlim[1] + 0.1, tstep)
    ax2.set_ylim(*tlim)
    ax2.set_yticks(tvals)
    ax2.set_yticklabels([f'{int(v)}' for v in tvals])

    ax.set_xticks([k * DAYS_PER_MONTH for k in range(nmonths)])
    ax.set_xticklabels(months[:nmonths])
    ax.tick_params(axis='x', direction='out', length=7, width=1, pad=10, labelsize=15)
    ax.tick_params(axis='y', direction='out', length=7, width=1, pad=5, labelsize=15)
    ax2.tick_params(axis='y', direction='inout', length=14, width=1, pad=4, labelsize=15)

    for a in (ax, ax2):
        for s in ('left', 'bottom', 'right'):
            a.spines[s].set_color('black')
            a.spines[s].set_linewidth(1.3)
        a.spines['top'].set_color('#888888')
        a.spines['top'].set_linewidth(1.3)

    if year:
        ax.text(0.047, 0.915, year, transform=ax.transAxes, fontsize=15, va='center', ha='left')
    if left_label is not None:
        ax.set_ylabel('Discharge (m3/s)', fontstyle='italic', fontsize=15)
        ax.yaxis.set_label_coords(left_label, 0.5)
    if right_label is not None:
        ax2.set_ylabel('Temp oC', fontstyle='italic', fontsize=15)
        ax2.yaxis.set_label_coords(right_label, 0.5)
    return ax, ax2


W, H = 1552, 1029
fig = plt.figure(figsize=(W / 100, H / 100), dpi=100)


def rect(l, r, t, b):
    return [l / W, (H - b) / H, (r - l) / W, (b - t) / H]


dashed = {'lw': 1.0, 'ls': (0, (6, 3)), 'ms': 6}
dashdot = {'lw': 2.2, 'ls': (0, (6, 3, 1.5, 3)), 'ms': 5.5}

panel(rect(105, 725, 19, 443), p1_discharge, p1_lodore, p1_browns, 140, (0, 22), 2, 359, 12,
      GREEN_1, 2.0, dashed, left_label=-0.117)
panel(rect(881, 1455, 23, 447), p2_discharge, p2_lodore, p2_browns, 140, (-5, 25), 5, 358.5, 12,
      '#118811', 1.0, dashed, year='2001', right_label=1.10)
panel(rect(108, 724, 538, 929), p3_discharge, p3_lodore, p3_browns, 120, (-5, 30), 5, 357.6, 12,
      GREEN, 1.0, dashed, year='2002', left_label=-0.114)
panel(rect(905, 1470, 533, 931), p4_discharge, p4_lodore, p4_browns, 160, (-5, 25), 5, 318.5, 11,
      '#229922', 1.0, dashdot, right_label=1.105)

labels = ['Discharge', 'Lodore Canyon Temp', 'Browns Park Temp']
h3 = [Line2D([], [], color='#44aa44', lw=1.2),
      Line2D([], [], color='#3344ff', lw=1.2),
      Line2D([], [], color=MAROON, lw=1.0, ls=(0, (6, 3)), marker='^', ms=4)]
h4 = [Line2D([], [], color='#44aa44', lw=1.2),
      Line2D([], [], color='#5566ff', lw=1.2),
      Line2D([], [], color=MAROON, lw=2.2, ls=(0, (6, 3, 1.5, 3)), marker='^', ms=4)]
fig.legend(h3, labels, loc='center', bbox_to_anchor=(390 / W, 1 - 1011 / H), ncol=3, frameon=False,
           fontsize=16, handlelength=3.2, columnspacing=0.5, handletextpad=0.3)
fig.legend(h4, labels, loc='center', bbox_to_anchor=(1172 / W, 1 - 1016 / H), ncol=3, frameon=False,
           fontsize=16, handlelength=3.2, columnspacing=0.5, handletextpad=0.3)

fig.savefig('out.png', dpi=100)
